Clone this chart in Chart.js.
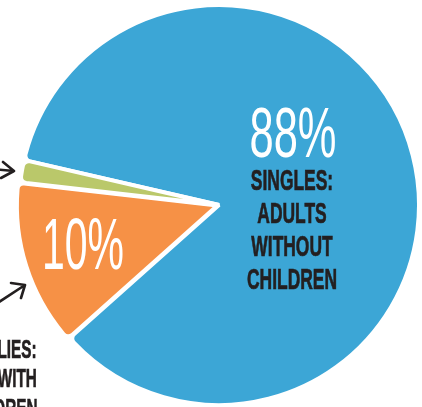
<!DOCTYPE html>
<html>
<head>
<meta charset="utf-8">
<script src="https://cdn.jsdelivr.net/npm/chart.js@4.4.1/dist/chart.umd.min.js"></script>
<style>
  html, body { margin: 0; padding: 0; background: #fff; overflow: hidden; }
  #wrap { position: relative; width: 422px; height: 407px; overflow: hidden; }
  #pie { position: absolute; left: 0; top: 0; }
  #arrows { position: absolute; left: 0; top: 0; }
  .lbl {
    position: absolute;
    white-space: nowrap;
    line-height: 1;
    font-family: "Liberation Sans Narrow", "Liberation Sans", Arial, sans-serif;
  }
  .pct { color: #fff; font-weight: 400; }
  .cap { color: #231f20; font-weight: 700; -webkit-text-stroke: 0.7px #231f20; }
</style>
</head>
<body>
<div id="wrap">
  <canvas id="pie" width="422" height="407"></canvas>
  <svg id="arrows" width="422" height="407" fill="none" stroke="#231f20" stroke-width="2.6" stroke-linecap="round" stroke-linejoin="round">
    <path d="M-8 169 L14 171 M3 162 L14 171 L1 178" />
    <path d="M-4 304 L25 285 M11 283 L25 285 L21 298" />
  </svg>
</div>
<script>
  // slice sizes as drawn in the picture (the printed labels round differently)
  const segmentLabels = ["Singles: adults without children", "Families: adults with children", "Other"];
  const segmentShares = [84.8, 13.4, 1.8];
  const segmentColors = ["#3ca6d6", "#f69146", "#bac86a"];
  const segmentOffsets = [0, 7, 0];

  const singlesPercent = "88%";
  const familiesPercent = "10%";
  const singlesLines = ["SINGLES:", "ADULTS", "WITHOUT", "CHILDREN"];
  const familiesLines = ["FAMILIES:", "ADULTS WITH", "CHILDREN"];

  new Chart(document.getElementById("pie"), {
    type: "pie",
    data: {
      labels: segmentLabels,
      datasets: [
        {
          data: segmentShares,
          backgroundColor: segmentColors,
          borderColor: "#ffffff",
          borderWidth: 4,
          borderRadius: 6,
          offset: segmentOffsets,
        },
      ],
    },
    options: {
      responsive: false,
      animation: false,
      rotation: 283,
      radius: 200,
      layout: { padding: { left: 16, top: 3 } },
      plugins: {
        legend: { display: false },
        tooltip: { enabled: false },
      },
    },
  });

  const wrap = document.getElementById("wrap");
  const family = '"Liberation Sans Narrow", "Liberation Sans", Arial, sans-serif';
  const ctx = document.createElement("canvas").getContext("2d");

  function metrics(weight, size, text) {
    ctx.font = `${weight} ${size}px ${family}`;
    const m = ctx.measureText(text);
    return {
      width: m.width,
      cap: ctx.measureText("H").actualBoundingBoxAscent,
      asc: m.fontBoundingBoxAscent,
      desc: m.fontBoundingBoxDescent,
    };
  }

  // draw one line with a given cap height, baseline and horizontal anchor
  function placeLine(text, cls, weight, capHeight, baseline, anchorX, align, scale) {
    const probe = metrics(weight, 100, "H");
    const size = capHeight * 100 / probe.cap;
    const m = metrics(weight, size, text);
    const el = document.createElement("div");
    el.className = "lbl " + cls;
    el.style.fontSize = size + "px";
    el.textContent = text;
    const baseOffset = (size - (m.asc + m.desc)) / 2 + m.asc;
    el.style.top = (baseline - baseOffset) + "px";
    const k = typeof scale === "function" ? scale(m.width) : scale;
    if (align === "center") {
      el.style.left = anchorX + "px";
      el.style.transformOrigin = "50% 0";
      el.style.transform = `translateX(-50%) scaleX(${k})`;
    } else {
      el.style.right = (422 - anchorX) + "px";
      el.style.transformOrigin = "100% 0";
      el.style.transform = `scaleX(${k})`;
    }
    wrap.appendChild(el);
    return { size, width: m.width };
  }

  placeLine(singlesPercent, "pct", 400, 49, 157, 293, "center", (w) => 87 / w);
  placeLine(familiesPercent, "pct", 400, 50, 270, 83, "center", (w) => 82 / w);

  const capProbe = metrics(700, 20 * 100 / metrics(700, 100, "H").cap, "CHILDREN");
  const capScale = 90 / capProbe.width;
  singlesLines.forEach((t, i) => placeLine(t, "cap", 700, 20, 190 + i * 33, 292, "center", capScale));
  familiesLines.forEach((t, i) => placeLine(t, "cap", 700, 18.5, 358 + i * 29.5, 37, "right", capScale * 0.95));
</script>
</body>
</html>
